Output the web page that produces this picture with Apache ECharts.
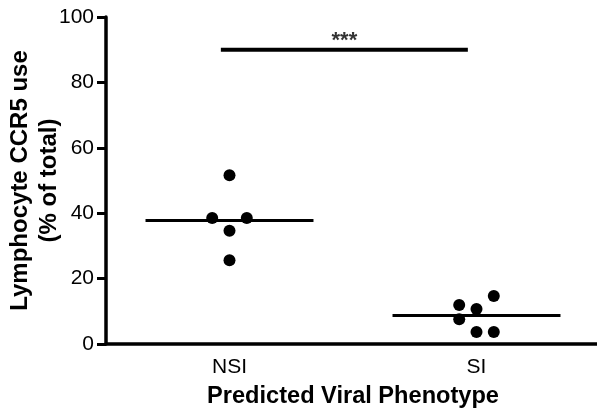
<!DOCTYPE html>
<html>
<head>
<meta charset="utf-8">
<script src="https://cdn.jsdelivr.net/npm/echarts@6/dist/echarts.min.js"></script>
<style>
  html, body { margin: 0; padding: 0; background: #fff; }
  #chart { width: 597px; height: 412px; }
</style>
</head>
<body>
<div id="chart"></div>
<script>
// Groups and their tick labels
const groups = ['NSI', 'SI'];

// Individual measurements: [horizontal jitter within the group, value %]
const nsiPoints = [[0, 51.6], [-0.07, 38.5], [0.07, 38.5], [0, 34.6], [0, 25.6]];
const siPoints = [[-0.07, 11.9], [0, 10.7], [0.07, 14.7], [-0.07, 7.6], [0, 3.7], [0.07, 3.7]];

// Significance bracket between the groups
const sigLevel = 90;
const sigText = '***';

const yTicks = { min: 0, max: 100, step: 20 };

function mean(arr) {
  return arr.reduce((s, p) => s + p[1], 0) / arr.length;
}

const font = 'Liberation Sans, Arial, Helvetica, sans-serif';
const halfWidth = 0.34;

const chart = echarts.init(document.getElementById('chart'), null, { renderer: 'canvas' });

function groupPoints(pts, gi) {
  return pts.map(p => [gi + p[0], p[1]]);
}

function meanLine(pts, gi) {
  const m = mean(pts);
  return [[gi - halfWidth, m], [gi + halfWidth, m]];
}

const dotStyle = { color: '#000', opacity: 1 };

chart.setOption({
  animation: false,
  backgroundColor: '#ffffff',
  grid: { left: 106, right: -3, top: 17, bottom: 68, containLabel: false, outerBoundsMode: 'none' },
  xAxis: [
    {
      type: 'category',
      data: groups,
      boundaryGap: true,
      name: 'Predicted Viral Phenotype',
      nameLocation: 'middle',
      nameGap: 40,
      nameMoveOverlap: false,
      nameTextStyle: { fontFamily: font, fontSize: 23.6, fontWeight: 'bold', color: '#000' },
      axisLine: { onZero: false, lineStyle: { color: '#000', width: 3.5 } },
      axisTick: { alignWithLabel: true, length: 9, lineStyle: { color: '#000', width: 3 } },
      axisLabel: { fontFamily: font, fontSize: 21, color: '#000', margin: 13 },
      splitLine: { show: false }
    },
    {
      type: 'value',
      min: -0.5,
      max: 1.5,
      show: false
    }
  ],
  yAxis: {
    type: 'value',
    min: yTicks.min,
    max: yTicks.max,
    interval: yTicks.step,
    name: 'Lymphocyte CCR5 use\n(% of total)',
    nameLocation: 'middle',
    nameRotate: 90,
    nameGap: 42,
    nameMoveOverlap: false,
    nameTextStyle: { fontFamily: font, fontSize: 24, fontWeight: 'bold', color: '#000', lineHeight: 29 },
    axisLine: { show: true, onZero: false, lineStyle: { color: '#000', width: 3.5 } },
    axisTick: { show: true, length: 9, lineStyle: { color: '#000', width: 3 } },
    axisLabel: { fontFamily: font, fontSize: 21, color: '#000', margin: 12 },
    splitLine: { show: false }
  },
  series: [
    {
      type: 'scatter',
      xAxisIndex: 1,
      data: groupPoints(nsiPoints, 0),
      symbol: 'circle',
      symbolSize: 12,
      itemStyle: dotStyle,
      z: 5
    },
    {
      type: 'scatter',
      xAxisIndex: 1,
      data: groupPoints(siPoints, 1),
      symbol: 'circle',
      symbolSize: 12,
      itemStyle: dotStyle,
      z: 5
    },
    {
      type: 'line',
      xAxisIndex: 1,
      data: meanLine(nsiPoints, 0),
      symbol: 'none',
      lineStyle: { color: '#000', width: 3 },
      z: 4
    },
    {
      type: 'line',
      xAxisIndex: 1,
      data: meanLine(siPoints, 1),
      symbol: 'none',
      lineStyle: { color: '#000', width: 3 },
      z: 4
    },
    {
      type: 'line',
      xAxisIndex: 1,
      data: [[-0.035, sigLevel], [0.965, sigLevel]],
      symbol: 'none',
      lineStyle: { color: '#000', width: 4 },
      z: 4
    },
    {
      type: 'scatter',
      xAxisIndex: 1,
      data: [[0.465, sigLevel]],
      symbolSize: 0,
      label: {
        show: true,
        position: 'top',
        distance: -2,
        formatter: sigText,
        fontFamily: font,
        fontSize: 22,
        fontWeight: 'bold',
        color: '#000'
      },
      z: 6
    }
  ]
});
</script>
</body>
</html>
